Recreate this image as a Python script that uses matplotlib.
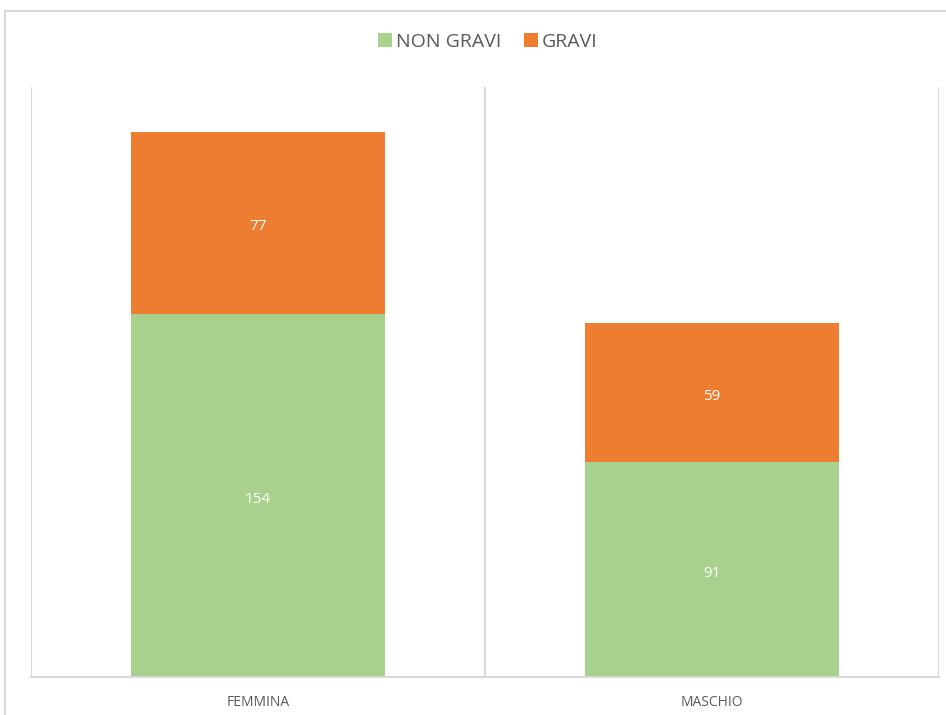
import numpy as np
import matplotlib.pyplot as plt
from matplotlib.patches import Rectangle

categories = ["FEMMINA", "MASCHIO"]
non_gravi = [154, 91]
gravi = [77, 59]

green = "#A9D18E"
orange = "#ED7D31"
grid_col = "#D9D9D9"
text_col = "#595959"

plt.rcParams['font.family'] = ['Open Sans', 'DejaVu Sans']

fig = plt.figure(figsize=(9.46, 7.15), dpi=100)
ax = fig.add_axes([31 / 946, 38 / 715, (939 - 31) / 946, (677 - 87) / 715])

# outer chart border (Excel style)
fig.patches.append(Rectangle((5 / 946, -0.1), 1.2, 0.1 + (715 - 11) / 715,
                             transform=fig.transFigure, fill=False,
                             edgecolor=grid_col, linewidth=1.5))

x = np.arange(len(categories))
w = 0.56
b1 = ax.bar(x, non_gravi, w, color=green, label="NON GRAVI")
b2 = ax.bar(x, gravi, w, bottom=non_gravi, color=orange, label="GRAVI")
ax.bar_label(b1, label_type="center", color="white", fontsize=11, padding=-3)
ax.bar_label(b2, label_type="center", color="white", fontsize=11, padding=-3)

ax.set_xlim(-0.5, len(categories) - 0.5)
ax.set_ylim(0, 250)
ax.set_yticks([])
ax.set_xticks(x)
ax.set_xticklabels(categories, color=text_col, fontsize=10)
ax.tick_params(axis="x", length=0, pad=13)
for sep in np.arange(-0.5, len(categories), 1.0):
    ax.axvline(sep, color=grid_col, linewidth=1.5, zorder=0)
for s in ["top", "left", "right"]:
    ax.spines[s].set_visible(False)
ax.spines["bottom"].set_color(grid_col)
ax.spines["bottom"].set_linewidth(1.5)

fig.legend(handles=[b1, b2], labels=["NON GRAVI", "GRAVI"], loc="center",
           bbox_to_anchor=(488 / 946, 1 - 42 / 715), ncol=2, frameon=False,
           fontsize=14, labelcolor=text_col, handlelength=0.7, handleheight=0.7,
           handletextpad=0.2, columnspacing=1.2)

fig.savefig("out.png", dpi=100, facecolor="white")
